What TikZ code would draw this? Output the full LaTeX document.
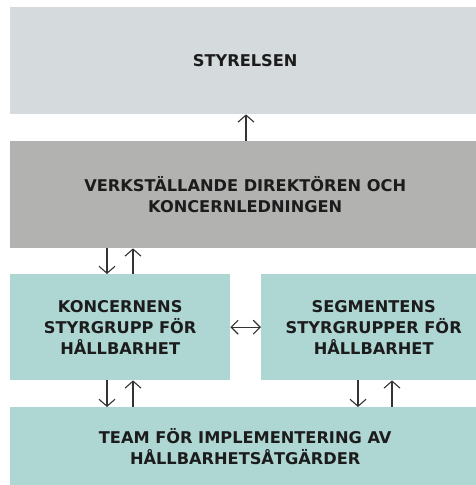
\documentclass[tikz,border=0pt]{standalone}
\usepackage{fontspec}
\setmainfont{DejaVu Sans}
\usepackage{tikz}
\usetikzlibrary{positioning, arrows.meta}
\usetikzlibrary{calc}
\definecolor{boardgray}{HTML}{D5DADC}
\definecolor{ceogray}{HTML}{B2B2B0}
\definecolor{teal}{HTML}{AED7D4}
\definecolor{textdark}{HTML}{1C1C1C}
\definecolor{arrowdark}{HTML}{333333}

\begin{document}
\begin{tikzpicture}[x=1pt, y=-1pt,
		box/.style={inner sep=0pt, anchor=north west, align=center, text=textdark,
			font=\bfseries\fontsize{16.2}{21}\selectfont},
		arr/.style={draw=arrowdark, line width=1.1pt, -{Straight Barb[length=7pt,width=16pt]}},
		dblarr/.style={draw=arrowdark, line width=1.1pt, {Straight Barb[length=7pt,width=14pt]}-{Straight Barb[length=7pt,width=14pt]}}]
			\useasboundingbox (0,0) rectangle (476,485);
			\node[box, fill=boardgray, minimum width=470pt, minimum height=107pt] (board) at (10,7) {STYRELSEN};
			\node[box, fill=ceogray, minimum width=470pt, minimum height=107pt] (ceo) at (10,141) {VERKSTÄLLANDE DIREKTÖREN OCH\\KONCERNLEDNINGEN};
			\node[box, fill=teal, minimum width=220pt, minimum height=106pt] (group) at (10,274) {KONCERNENS\\STYRGRUPP FÖR\\HÅLLBARHET};
			\node[box, fill=teal, minimum width=225pt, minimum height=106pt] (segment) at (261,274) {SEGMENTENS\\STYRGRUPPER FÖR\\HÅLLBARHET};
			\node[box, fill=teal, minimum width=470pt, minimum height=78pt] (team) at (10,407) {TEAM FÖR IMPLEMENTERING AV\\HÅLLBARHETSÅTGÄRDER};
			% arrows
			\draw[arr] ([xshift=236pt]ceo.north west) -- ([xshift=236pt]board.south west);
			\draw[arr] ([xshift=97pt]ceo.south west) -- ([xshift=97pt]group.north west);
			\draw[arr] ([xshift=123pt]group.north west) -- ([xshift=123pt]ceo.south west);
			\draw[dblarr] (group.east) -- (segment.west);
			\draw[arr] ([xshift=97pt]group.south west) -- ([xshift=97pt]team.north west);
			\draw[arr] ([xshift=123pt]team.north west) -- ([xshift=123pt]group.south west);
			\draw[arr] ([xshift=97pt]segment.south west) -- ([xshift=97pt]team.north west -| segment.south west);
			\draw[arr] ([xshift=131pt]team.north west -| segment.south west) -- ([xshift=131pt]segment.south west);
		\end{tikzpicture}
\end{document}
